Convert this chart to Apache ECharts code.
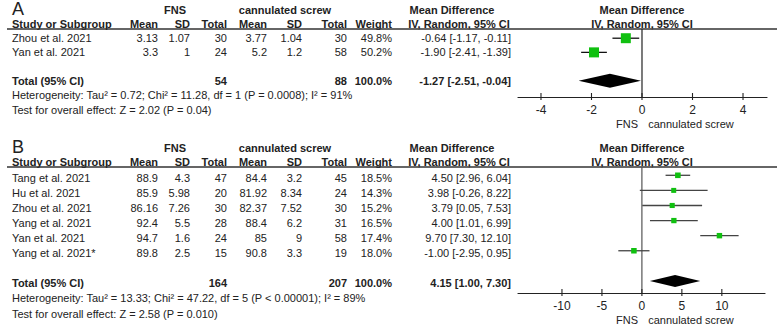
<!DOCTYPE html>
<html>
<head>
<meta charset="utf-8">
<script src="https://cdn.jsdelivr.net/npm/echarts@6/dist/echarts.min.js"></script>
<style>
  html, body { margin: 0; padding: 0; background: #fff; }
  #forest { width: 777px; height: 325px; }
</style>
</head>
<body>
<div id="forest"></div>
<script>
// panel A
var studiesA = ['Zhou et al. 2021', 'Yan et al. 2021'];
var fnsMeanA = ['3.13', '3.3'];
var fnsSdA = ['1.07', '1'];
var fnsNA = [30, 24];
var csMeanA = ['3.77', '5.2'];
var csSdA = ['1.04', '1.2'];
var csNA = [30, 58];
var weightA = [49.8, 50.2];
var mdA = [-0.64, -1.90];
var loA = [-1.17, -2.41];
var hiA = [-0.11, -1.39];
var totalA = {fns: 54, cs: 88, md: -1.27, lo: -2.51, hi: -0.04};
var hetA = 'Heterogeneity: Tau² = 0.72; Chi² = 11.28, df = 1 (P = 0.0008); I² = 91%';
var testA = 'Test for overall effect: Z = 2.02 (P = 0.04)';
var ticksA = [-4, -2, 0, 2, 4];

// panel B
var studiesB = ['Tang et al. 2021', 'Hu et al. 2021', 'Zhou et al. 2021', 'Yang et al. 2021', 'Yan et al. 2021', 'Yang et al. 2021*'];
var fnsMeanB = ['88.9', '85.9', '86.16', '92.4', '94.7', '89.8'];
var fnsSdB = ['4.3', '5.98', '7.26', '5.5', '1.6', '2.5'];
var fnsNB = [47, 20, 30, 28, 24, 15];
var csMeanB = ['84.4', '81.92', '82.37', '88.4', '85', '90.8'];
var csSdB = ['3.2', '8.34', '7.52', '6.2', '9', '3.3'];
var csNB = [45, 24, 30, 31, 58, 19];
var weightB = [18.5, 14.3, 15.2, 16.5, 17.4, 18.0];
var mdB = [4.50, 3.98, 3.79, 4.00, 9.70, -1.00];
var loB = [2.96, -0.26, 0.05, 1.01, 7.30, -2.95];
var hiB = [6.04, 8.22, 7.53, 6.99, 12.10, 0.95];
var totalB = {fns: 164, cs: 207, md: 4.15, lo: 1.00, hi: 7.30};
var hetB = 'Heterogeneity: Tau² = 13.33; Chi² = 47.22, df = 5 (P < 0.00001); I² = 89%';
var testB = 'Test for overall effect: Z = 2.58 (P = 0.010)';
var ticksB = [-10, -5, 0, 5, 10];

var FONT = '"Liberation Sans", Arial, sans-serif';
var TXT = '#222';
var GREEN = '#10c010';

var chart = echarts.init(document.getElementById('forest'), null, {renderer: 'svg'});

function fmtCI(m, l, h) {
    return m.toFixed(2) + ' [' + l.toFixed(2) + ', ' + h.toFixed(2) + ']';
}

function txt(s, x, y, align, bold, size) {
    return {
        type: 'text',
        silent: true,
        style: {
            text: s, x: x, y: y,
            fill: TXT,
            font: (bold ? 'bold ' : '') + (size || 11) + 'px ' + FONT,
            align: align || 'left', textAlign: align || 'left',
            verticalAlign: 'middle', textVerticalAlign: 'middle'
        }
    };
}

// table text for one panel
function tableText(p) {
    var g = [];
    var y0 = p.top;
    g.push(txt(p.letter, 12, y0 + 9, 'left', false, 18));
    g.push(txt('FNS', 175, y0 + 10, 'center', true));
    g.push(txt('cannulated screw', 285, y0 + 10, 'center', true));
    g.push(txt('Mean Difference', 452, y0 + 10, 'center', true));
    g.push(txt('Mean Difference', 642, y0 + 10, 'center', true));
    var hy = y0 + 24;
    g.push(txt('Study or Subgroup', 12, hy, 'left', true));
    g.push(txt('Mean', 158, hy, 'right', true));
    g.push(txt('SD', 190, hy, 'right', true));
    g.push(txt('Total', 227, hy, 'right', true));
    g.push(txt('Mean', 267, hy, 'right', true));
    g.push(txt('SD', 302, hy, 'right', true));
    g.push(txt('Total', 347, hy, 'right', true));
    g.push(txt('Weight', 392, hy, 'right', true));
    g.push(txt('IV, Random, 95% CI', 459, hy, 'center', true));
    g.push(txt('IV, Random, 95% CI', 642, hy, 'center', true));
    g.push({
        type: 'line', silent: true,
        shape: {x1: 7, y1: p.lineY, x2: 777, y2: p.lineY},
        style: {stroke: '#333', lineWidth: 1.5}
    });
    for (var i = 0; i < p.studies.length; i++) {
        var y = p.rowY + i * p.rowH;
        g.push(txt(p.studies[i], 12, y, 'left'));
        g.push(txt(p.fnsMean[i], 158, y, 'right'));
        g.push(txt(p.fnsSd[i], 190, y, 'right'));
        g.push(txt(String(p.fnsN[i]), 227, y, 'right'));
        g.push(txt(p.csMean[i], 267, y, 'right'));
        g.push(txt(p.csSd[i], 302, y, 'right'));
        g.push(txt(String(p.csN[i]), 347, y, 'right'));
        g.push(txt(p.weight[i].toFixed(1) + '%', 392, y, 'right'));
        g.push(txt(fmtCI(p.md[i], p.lo[i], p.hi[i]), 511, y, 'right'));
    }
    var ty = p.rowY + (p.studies.length + 1) * p.rowH;
    g.push(txt('Total (95% CI)', 12, ty, 'left', true));
    g.push(txt(String(p.total.fns), 227, ty, 'right', true));
    g.push(txt(String(p.total.cs), 347, ty, 'right', true));
    g.push(txt('100.0%', 392, ty, 'right', true));
    g.push(txt(fmtCI(p.total.md, p.total.lo, p.total.hi), 511, ty, 'right', true));
    g.push(txt(p.het, 12, ty + p.rowH, 'left'));
    g.push(txt(p.test, 12, ty + 2 * p.rowH + 0.5, 'left'));
    g.push(txt('FNS', 627, p.favY, 'center'));
    g.push(txt('cannulated screw', 691, p.favY, 'center'));
    return g;
}

var panelA = {
    letter: 'A', top: 0, lineY: 29, rowY: 38, rowH: 14.3, favY: 124,
    studies: studiesA, fnsMean: fnsMeanA, fnsSd: fnsSdA, fnsN: fnsNA,
    csMean: csMeanA, csSd: csSdA, csN: csNA, weight: weightA,
    md: mdA, lo: loA, hi: hiA, total: totalA, het: hetA, test: testA
};
var panelB = {
    letter: 'B', top: 138, lineY: 167, rowY: 178, rowH: 15, favY: 320,
    studies: studiesB, fnsMean: fnsMeanB, fnsSd: fnsSdB, fnsN: fnsNB,
    csMean: csMeanB, csSd: csSdB, csN: csNB, weight: weightB,
    md: mdB, lo: loB, hi: hiB, total: totalB, het: hetB, test: testB
};

// plot pieces
function whiskerData(lo, hi) {
    return lo.map(function (l, i) { return [l, i, hi[i]]; });
}
function squareData(md, w) {
    return md.map(function (m, i) { return [m, i, w[i]]; });
}

function whiskerItem(color) {
    return function (params, api) {
        var a = api.coord([api.value(0), api.value(1)]);
        var b = api.coord([api.value(2), api.value(1)]);
        return {type: 'line', shape: {x1: a[0], y1: a[1], x2: b[0], y2: b[1]},
                style: {stroke: color, lineWidth: 1.3}};
    };
}
function diamondItem(half) {
    return function (params, api) {
        var r = api.value(1);
        var l = api.coord([api.value(0), r]);
        var m = api.coord([api.value(2), r]);
        var h = api.coord([api.value(3), r]);
        return {type: 'polygon',
                shape: {points: [[l[0], l[1]], [m[0], m[1] - half], [h[0], h[1]], [m[0], m[1] + half]]},
                style: {fill: '#000'}};
    };
}
// vertical line of no effect, between the two y-axis extents
function zeroItem(color) {
    return function (params, api) {
        var top = api.coord([api.value(0), api.value(1)]);
        var bot = api.coord([api.value(0), api.value(2)]);
        return {type: 'line', shape: {x1: top[0], y1: top[1], x2: bot[0], y2: bot[1]},
                style: {stroke: color, lineWidth: 1.2}};
    };
}
// tick marks that cross the bottom axis line
function tickItem(params, api) {
    var p = api.coord([api.value(0), api.value(1)]);
    return {type: 'line', shape: {x1: p[0], y1: p[1] - 4, x2: p[0], y2: p[1] + 3},
            style: {stroke: '#222', lineWidth: 1.1}};
}

function xAxis(grid, min, max, ticks) {
    return {
        type: 'value', gridIndex: grid, min: min, max: max, position: 'bottom',
        axisLine: {show: true, onZero: false, lineStyle: {color: '#222', width: 1.2}},
        axisTick: {show: false},
        axisLabel: {show: true, customValues: ticks, margin: 7, color: TXT, fontSize: 12, fontFamily: FONT},
        splitLine: {show: false}
    };
}

function yAxis(grid, min, max) {
    return {
        type: 'value', gridIndex: grid, min: min, max: max, inverse: true,
        axisLine: {show: false, onZero: false},
        axisTick: {show: false},
        axisLabel: {show: false},
        splitLine: {show: false}
    };
}

var yRangeA = [-0.65, 4.15];
var yRangeB = [-0.55, 7.8];

function tickData(t, yr) {
    return t.map(function (v) { return [v, yr[1]]; });
}

var option = {
    animation: false,
    backgroundColor: '#fff',
    grid: [
        {left: 518, width: 249, top: 29, height: 68},
        {left: 518, width: 247, top: 167, height: 126}
    ],
    xAxis: [xAxis(0, -4.91, 4.95, ticksA), xAxis(1, -15.5, 15.4, ticksB)],
    yAxis: [yAxis(0, yRangeA[0], yRangeA[1]), yAxis(1, yRangeB[0], yRangeB[1])],
    series: [
        {
            type: 'custom', xAxisIndex: 0, yAxisIndex: 0, silent: true,
            renderItem: zeroItem('#222'), data: [[0, yRangeA[0], yRangeA[1]]]
        },
        {
            type: 'custom', xAxisIndex: 0, yAxisIndex: 0, silent: true,
            renderItem: tickItem, data: tickData(ticksA, yRangeA)
        },
        {
            type: 'custom', xAxisIndex: 0, yAxisIndex: 0, silent: true,
            renderItem: whiskerItem('#111'), data: whiskerData(loA, hiA)
        },
        {
            type: 'scatter', xAxisIndex: 0, yAxisIndex: 0, silent: true, symbol: 'rect',
            symbolSize: function (v) { return 3 + v[2] * 0.14; },
            itemStyle: {color: GREEN, opacity: 1},
            data: squareData(mdA, weightA)
        },
        {
            type: 'custom', xAxisIndex: 0, yAxisIndex: 0, silent: true,
            renderItem: diamondItem(7),
            data: [[totalA.lo, studiesA.length + 1, totalA.md, totalA.hi]]
        },
        {
            type: 'custom', xAxisIndex: 1, yAxisIndex: 1, silent: true,
            renderItem: zeroItem('#555'), data: [[0, yRangeB[0], yRangeB[1]]]
        },
        {
            type: 'custom', xAxisIndex: 1, yAxisIndex: 1, silent: true,
            renderItem: tickItem, data: tickData(ticksB, yRangeB)
        },
        {
            type: 'custom', xAxisIndex: 1, yAxisIndex: 1, silent: true,
            renderItem: whiskerItem('#444'), data: whiskerData(loB, hiB)
        },
        {
            type: 'scatter', xAxisIndex: 1, yAxisIndex: 1, silent: true, symbol: 'rect',
            symbolSize: function (v) { return 3 + v[2] * 0.14; },
            itemStyle: {color: GREEN, opacity: 1},
            data: squareData(mdB, weightB)
        },
        {
            type: 'custom', xAxisIndex: 1, yAxisIndex: 1, silent: true,
            renderItem: diamondItem(6),
            data: [[totalB.lo, studiesB.length + 1, totalB.md, totalB.hi]]
        }
    ],
    graphic: tableText(panelA).concat(tableText(panelB))
};

chart.setOption(option);
</script>
</body>
</html>
